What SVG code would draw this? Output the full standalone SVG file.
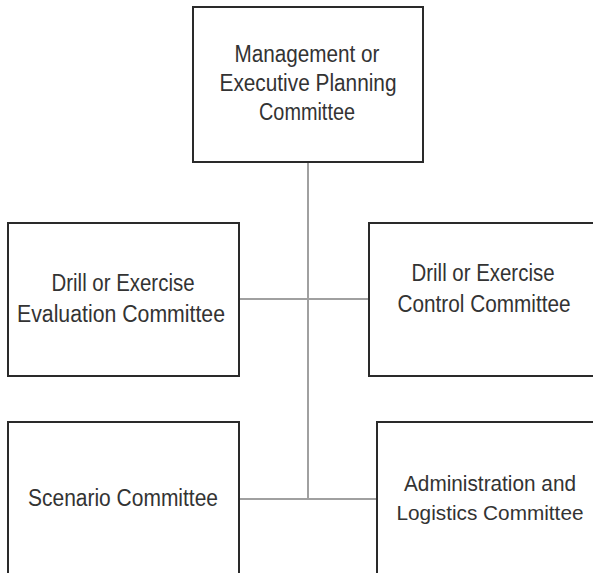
<svg xmlns="http://www.w3.org/2000/svg" width="593" height="573" viewBox="0 0 593 573">
<style>
.box{fill:#fff;stroke:#2a2a2a;stroke-width:2}
.lbl{font-family:"Liberation Sans",Arial,sans-serif;font-size:23.5px;fill:#333;text-anchor:middle}
.sm{font-size:22.5px}
.xs{font-size:21px}
.con{stroke:#a0a0a0;stroke-width:2;fill:none}
</style>
<rect width="593" height="573" fill="#fff"/>
<g id="connectors">
<line class="con" x1="308" y1="162" x2="308" y2="499"/>
<line class="con" x1="239" y1="299" x2="369" y2="299"/>
<line class="con" x1="239" y1="499" x2="377" y2="499"/>
</g>
<g id="n-management">
<rect class="box" x="193" y="7" width="230" height="155"/>
<text class="lbl" x="307" y="62" textLength="145" lengthAdjust="spacingAndGlyphs">Management or</text>
<text class="lbl" x="308" y="91" textLength="177" lengthAdjust="spacingAndGlyphs">Executive Planning</text>
<text class="lbl" x="307" y="120" textLength="96" lengthAdjust="spacingAndGlyphs">Committee</text>
</g>
<g id="n-evaluation">
<rect class="box" x="8" y="223" width="231" height="153"/>
<text class="lbl" x="123" y="291" textLength="143" lengthAdjust="spacingAndGlyphs">Drill or Exercise</text>
<text class="lbl" x="121" y="322" textLength="208" lengthAdjust="spacingAndGlyphs">Evaluation Committee</text>
</g>
<g id="n-control">
<rect class="box" x="369" y="223" width="226" height="153"/>
<text class="lbl" x="483" y="281" textLength="143" lengthAdjust="spacingAndGlyphs">Drill or Exercise</text>
<text class="lbl" x="484" y="312" textLength="173" lengthAdjust="spacingAndGlyphs">Control Committee</text>
</g>
<g id="n-scenario">
<rect class="box" x="8" y="422" width="231" height="153"/>
<text class="lbl" x="123" y="506" textLength="190" lengthAdjust="spacingAndGlyphs">Scenario Committee</text>
</g>
<g id="n-admin">
<rect class="box" x="377" y="422" width="218" height="153"/>
<text class="lbl sm" x="490" y="491" textLength="172" lengthAdjust="spacingAndGlyphs">Administration and</text>
<text class="lbl xs" x="490" y="520" textLength="187" lengthAdjust="spacingAndGlyphs">Logistics Committee</text>
</g>
</svg>
